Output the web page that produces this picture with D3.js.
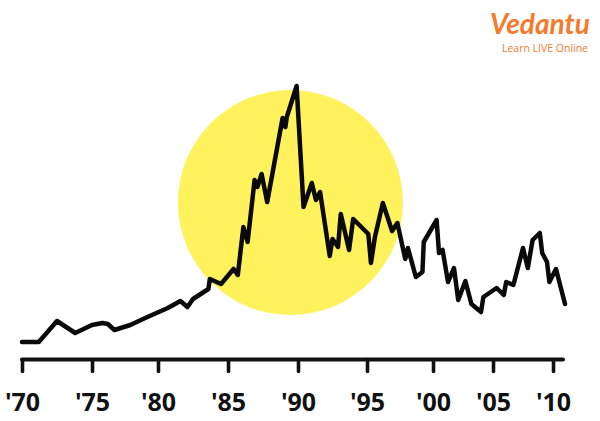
<!DOCTYPE html>
<html>
<head>
<meta charset="utf-8">
<script src="https://cdn.jsdelivr.net/npm/d3@7"></script>
<style>
  html, body { margin: 0; padding: 0; background: #ffffff; }
  svg { display: block; }
</style>
</head>
<body>
<svg id="chart" width="600" height="421"></svg>
<script>
// ---- data (value units are approximate index points) ----
const years = [
  1970.0, 1971.2, 1972.5, 1973.8, 1974.1, 1975.0, 1975.8, 1976.2, 1976.7, 1977.9,
  1979.2, 1980.7, 1981.6, 1982.1, 1982.5, 1983.6, 1983.7, 1984.5, 1985.4, 1985.7,
  1986.1, 1986.4, 1986.9, 1987.1, 1987.4, 1987.8, 1988.9, 1989.1, 1989.2, 1989.9,
  1990.4, 1991.0, 1991.3, 1991.6, 1992.3, 1992.5, 1992.9, 1993.1, 1993.7, 1994.0,
  1995.1, 1995.3, 1995.6, 1996.2, 1996.9, 1997.3, 1997.9, 1998.1, 1998.7, 1999.2,
  1999.3, 2000.3, 2000.5, 2000.8, 2001.25, 2001.75, 2002.1, 2002.7, 2003.2, 2004.0,
  2004.2, 2005.3, 2005.9, 2006.1, 2006.7, 2007.5, 2007.9, 2008.3, 2008.9, 2009.1,
  2009.5, 2009.7, 2010.25, 2011.0
];
const values = [
  1600, 1600, 3700, 2500, 2700, 3300, 3500, 3400, 2800, 3300,
  4100, 5000, 5700, 5100, 5900, 6900, 7900, 7400, 8900, 8300,
  13100, 11600, 17800, 17100, 18400, 15600, 24000, 23100, 24100, 27200,
  15100, 17500, 15800, 16600, 10200, 11900, 11100, 14400, 10800, 13900,
  12400, 9500, 12100, 15500, 12700, 13500, 9900, 11000, 8100, 8600,
  11600, 13800, 10500, 10800, 7600, 9000, 5800, 7700, 5400, 4600,
  6100, 7000, 6300, 7600, 7300, 11000, 9000, 11800, 12500, 10500,
  9600, 7600, 8900, 5400
];
const tickYears  = [1970, 1975, 1980, 1985, 1990, 1995, 2000, 2005, 2010];
const tickLabels = ["'70", "'75", "'80", "'85", "'90", "'95", "'00", "'05", "'10"];
// highlighted "bubble" period (centre in data units)
const highlightYear = [1989.46];
const highlightValue = [15550];
const logoTitle = "Vedantu";
const logoSub = "Learn LIVE Online";

// ---- drawing ----
const svg = d3.select("#chart");
svg.append("rect").attr("width", 600).attr("height", 421).attr("fill", "#ffffff");

// hand-drawn axis: tick spacing is slightly uneven
const x = d3.scaleLinear()
  .domain(tickYears)
  .range([22, 92, 158, 228, 298, 367, 433, 493, 553]);
const y = d3.scaleLinear().domain([0, 28000]).range([358, 78]);

const axisY = 359.5;

// highlight circle
svg.append("circle")
  .attr("cx", x(highlightYear[0]))
  .attr("cy", y(highlightValue[0]))
  .attr("r", 112.5)
  .attr("fill", "#fff25c");

// x axis
const axisG = svg.append("g").attr("transform", `translate(0,${axisY})`);
axisG.call(d3.axisBottom(x)
  .tickValues(tickYears)
  .tickFormat((d, i) => tickLabels[i])
  .tickSize(12)
  .tickSizeOuter(0)
  .tickPadding(22));
axisG.select(".domain").remove();
axisG.selectAll(".tick line")
  .attr("stroke", "#111")
  .attr("stroke-width", 3.6)
  .attr("stroke-linecap", "round");
axisG.selectAll(".tick text")
  .attr("fill", "#111")
  .style("font-family", "'Open Sans', sans-serif")
  .style("font-weight", 700)
  .style("font-size", "25px")
  .attr("dy", "0.71em");
axisG.append("line")
  .attr("x1", x(1970)).attr("x2", 563)
  .attr("y1", 0).attr("y2", 0)
  .attr("stroke", "#111")
  .attr("stroke-width", 4)
  .attr("stroke-linecap", "round");

// price line
const line = d3.line()
  .x((d, i) => x(years[i]))
  .y((d, i) => y(values[i]));
svg.append("path")
  .datum(values)
  .attr("d", line)
  .attr("fill", "none")
  .attr("stroke", "#0a0a0a")
  .attr("stroke-width", 4.5)
  .attr("stroke-linejoin", "round")
  .attr("stroke-linecap", "round");

// logo
const logo = svg.append("g");
logo.append("text")
  .attr("x", 490).attr("y", 34)
  .attr("textLength", 100)
  .attr("lengthAdjust", "spacingAndGlyphs")
  .style("font-family", "Lato, sans-serif")
  .style("font-style", "italic")
  .style("font-weight", 700)
  .style("font-size", "28px")
  .attr("fill", "#f47b2c")
  .text(logoTitle);
logo.append("text")
  .attr("x", 502).attr("y", 51.5)
  .attr("textLength", 86)
  .attr("lengthAdjust", "spacingAndGlyphs")
  .style("font-family", "'Open Sans', sans-serif")
  .style("font-size", "10px")
  .attr("fill", "#f47b2c")
  .text(logoSub);
</script>
</body>
</html>
